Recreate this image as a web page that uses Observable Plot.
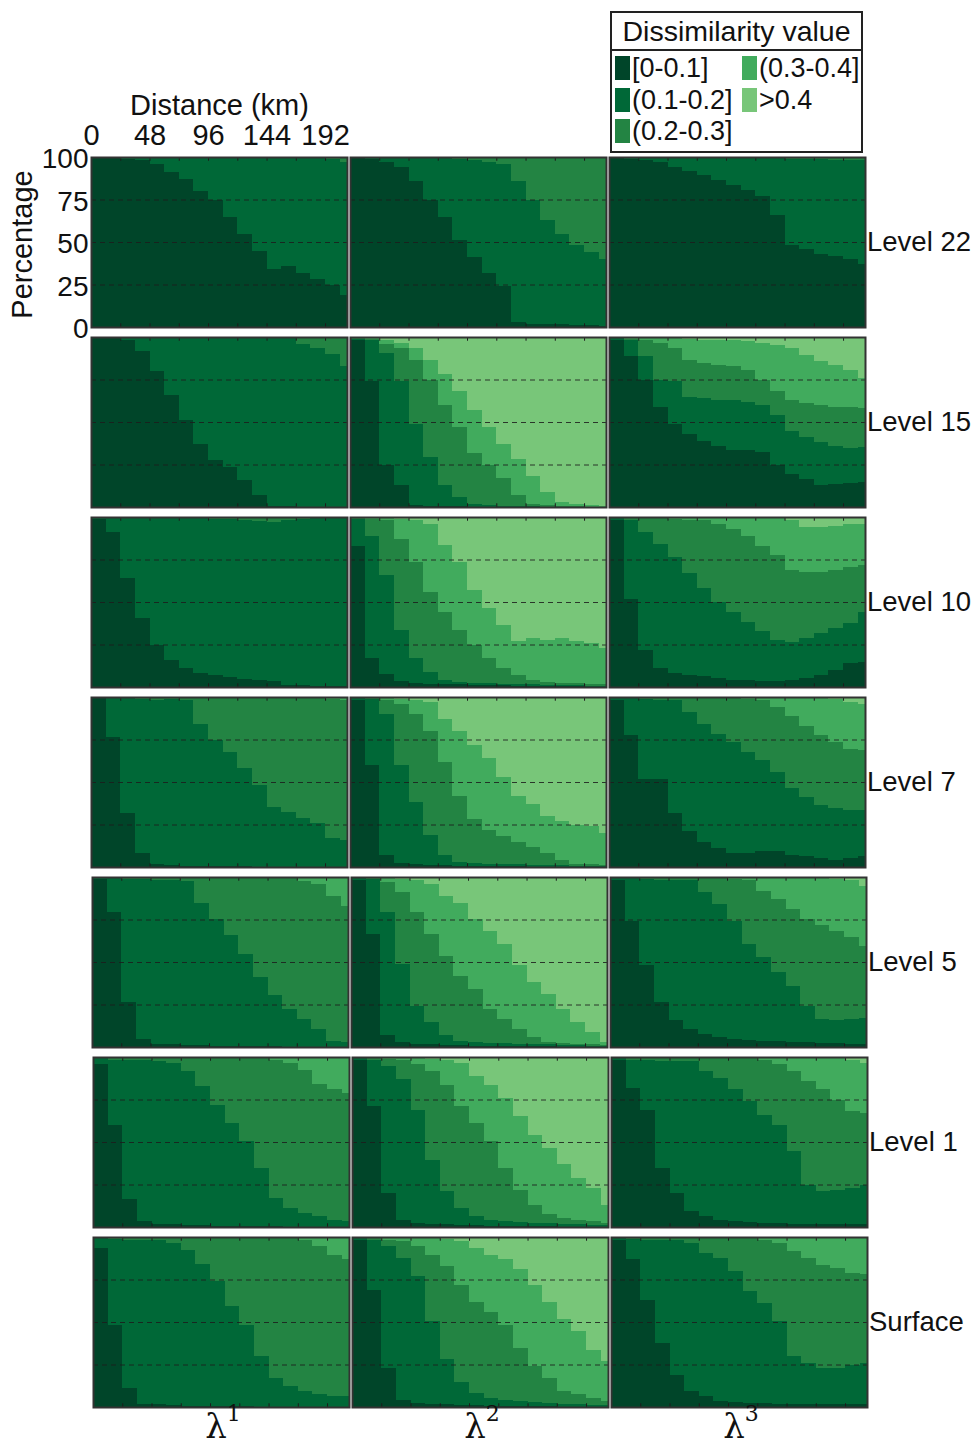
<!DOCTYPE html>
<html><head><meta charset="utf-8">
<script src="https://cdn.jsdelivr.net/npm/d3@7"></script>
<script src="https://cdn.jsdelivr.net/npm/@observablehq/plot@0.6"></script>
<style>
body{margin:0;background:#fff;font-family:"Liberation Sans",Arial,sans-serif;color:#111;}
#fig{position:relative;width:974px;height:1448px;overflow:hidden;background:#fff;}
.abs{position:absolute;}
.rowlab{position:absolute;font-size:27.5px;transform:translateY(-50%);white-space:nowrap;}
.lam{position:absolute;font-family:"DejaVu Serif","Liberation Serif",serif;font-size:34px;transform:translateX(-50%);white-space:nowrap;}
.lam sup{font-size:22px;vertical-align:top;position:relative;top:-5px;}
#legend{position:absolute;left:610px;top:11px;width:253px;height:142px;border:2px solid #222;box-sizing:border-box;background:#fff;}
#legend .title{height:36px;border-bottom:2px solid #222;font-size:28.5px;line-height:36px;text-align:center;white-space:nowrap;}
#legend .item{position:absolute;font-size:27px;line-height:28px;white-space:nowrap;}
#legend .sw{display:inline-block;width:15px;height:24px;vertical-align:-3px;margin-right:2px;}
</style></head><body><div id="fig"></div><script>
// ---- categories, colours, axis values ----
const categories = ["[0-0.1]", "(0.1-0.2]", "(0.2-0.3]", "(0.3-0.4]", ">0.4"];
const legendLabels = ["[0-0.1]", "(0.1-0.2]", "(0.2-0.3]", "(0.3-0.4]", ">0.4"];
const colors = ["#004529", "#006837", "#238443", "#41ab5d", "#78c679"];
const levels = ["Level 22", "Level 15", "Level 10", "Level 7", "Level 5", "Level 1", "Surface"];
const lambdas = ["1", "2", "3"];
const binStart = [0, 12, 24, 36, 48, 60, 72, 84, 96, 108, 120, 132, 144, 156, 168, 180, 192, 204];
const binEnd   = [12, 24, 36, 48, 60, 72, 84, 96, 108, 120, 132, 144, 156, 168, 180, 192, 204, 210];
const xTickLabels = [0, 48, 96, 144, 192];
const xMinorTicks = [24, 48, 72, 96, 120, 144, 168, 192];
const yTickLabels = [0, 25, 50, 75, 100];
const gridLevels = [25, 50, 75];

// ---- cumulative percentage boundaries per panel: [<=0.1, <=0.2, <=0.3, <=0.4] ----
const L22_1 = [
 [100,100,99,98,96,91,87,80,75,65,55,45,34,36,32,28,25,19],
 [100,100,100,100,100,100,100,100,100,100,100,100,100,100,100,100,99,97],
 [100,100,100,100,100,100,100,100,100,100,100,100,100,100,100,100,100,100],
 [100,100,100,100,100,100,100,100,100,100,100,100,100,100,100,100,100,100]];
const L22_2 = [
 [100,99,97,94,86,75,65,51,41,32,24,3,2,2,1.5,1,1,0.5],
 [100,100,100,100,100,100,100,99,98,97,96,86,75,63,55,48,44,40],
 [100,100,100,100,100,100,100,100,100,100,100,100,100,100,100,100,100,100],
 [100,100,100,100,100,100,100,100,100,100,100,100,100,100,100,100,100,100]];
const L22_3 = [
 [100,99,98,97,94,92,89.5,86.5,83.5,80.7,76.8,66,48,46,43,42,40,37],
 [100,100,100,100,100,100,100,100,100,100,100,100,99,99,99,98.5,98.5,98],
 [100,100,100,100,100,100,100,100,100,100,100,100,100,100,100,100,100,100],
 [100,100,100,100,100,100,100,100,100,100,100,100,100,100,100,100,100,100]];
const L15_1 = [
 [100,100,98.5,91.5,80,66,51,37,27.5,23.6,15.7,7,0.5,0.3,0.2,0.1,0,0],
 [100,100,100,100,100,100,100,100,100,100,100,100,100,99.5,96,93.5,90,83],
 [100,100,100,100,100,100,100,100,100,100,100,100,100,100,100,100,100,100],
 [100,100,100,100,100,100,100,100,100,100,100,100,100,100,100,100,100,100]];
const L15_2 = [
 [98,74,25,13,1,0.5,0.4,0.3,0.2,0.1,0,0,0,0,0,0,0,0],
 [99,98,90.5,74,49,29.5,13,6,2,1,0.5,0.4,0.3,0.2,0.1,0,0,0],
 [99.5,99,96,93.5,86.6,75,60,47,31.5,24.6,17,7,2,1,0.5,0.3,0.2,0],
 [100,99.5,98,96.5,93.5,86.6,78,68,57,47,37,28,18,9,3,1.5,1,0.5]];
const L15_3 = [
 [98,88.6,75,59,49,43,39,36,33.5,33.5,32.5,24.6,19.7,16.7,12.8,13.8,14.2,14.8],
 [99.5,98,88.6,75,74,65,64,63,63,62,60,54,45,41,38,36,34.5,35.5],
 [100,99,98.5,96.5,93.5,86.6,84.6,83.7,82.7,80.7,74.8,68,63,61,60,59,58.7,58],
 [100,100,100,100,99.5,99,98.5,98,98.4,97.4,96.5,95.5,93.5,89.6,85.6,83.7,80.7,75.8]];
const L10_1 = [
 [99,91,64,40.4,24.8,16,11,8.2,6.8,5.9,4.9,4.3,3.7,1.4,1,0.8,0.6,0.5],
 [100,100,100,100,100,100,100,100,99,99,98,97.5,97,98,99,99.5,99.5,99.5],
 [100,100,100,100,100,100,100,100,100,100,100,100,100,100,100,100,100,100],
 [100,100,100,100,100,100,100,100,100,100,100,100,100,100,100,100,100,100]];
const L10_2 = [
 [83,17,7.4,3.3,2.5,2,1.8,1.6,1.4,1.2,1,0.8,0.6,0.5,0.4,0.3,0.2,0.1],
 [99,89,66,33.6,17,9,4.3,3,2.5,2.2,2,1.8,1.6,1.4,1.2,1,0.8,0.6],
 [100,99,98,87,73.6,56,44,33.6,24.8,17,11,7,4.3,3,2.5,2.2,2,1.8],
 [100,100,99.5,99,98,96,83.4,73.6,57,46.3,36.5,26.8,28.7,27.7,28.7,26.8,25.8,22.9]];
const L10_3 = [
 [98,52,22,11,8.2,7.2,6.3,5.3,4.3,4,3.3,3.7,4.3,5.3,7.2,10,14,15],
 [99.5,98,91,84.4,76.6,66.8,58,50.2,44.3,38,33,27.5,26.5,29,31.6,34.6,37.5,44],
 [100,100,100,99.5,99,98.5,98,96,93,89,83,77.5,68.8,67.8,67.8,68.8,70.7,71.7],
 [100,100,100,100,100,100,100,100,100,100,100,100,98,94,94,95,96,96]];
const L7_1 = [
 [100,76.5,31.6,8.2,1.8,1,0.8,0.6,0.5,0.4,0.3,0.2,0.2,0.1,0.1,0,0,0],
 [100,100,99.5,99,98.5,99,98,84.4,74.6,67.8,58,48.2,35.5,32.6,28.7,25.8,17,16],
 [100,100,100,100,100,100,100,100,100,100,100,100,100,100,100,100,99,98],
 [100,100,100,100,100,100,100,100,100,100,100,100,100,100,100,100,100,100]];
const L7_2 = [
 [98,60,7.2,2.3,1.5,1.2,1,0.8,0.6,0.5,0.4,0.3,0.2,0.1,0,0,0,0],
 [99.5,99,90,60,38,19,7.2,3,2.5,2,1.8,1.6,1.4,1.2,1,0.8,0.6,0.5],
 [100,99.5,98,96,90,80,62,42,28,22,18,15,12,8,4,2,1.5,1],
 [100,100,99.5,99,98.5,97,87,80,72,64,53,42,37,30,27,25,24,20]];
const L7_3 = [
 [98,77.5,52,52,31.6,21,15,11,8.2,8.2,9.2,9.2,7.2,6.3,5.3,4.3,5.3,6.3],
 [100,99.5,99,98.5,98,91,84.4,78.5,73.6,67.8,63,56,46.3,41.4,36.5,34.6,33.6,33.6],
 [100,100,100,100,100,100,100,100,99.5,99,98,94,89,83,77.5,73.6,69.7,68.8],
 [100,100,100,100,100,100,100,100,100,100,100,100,100,100,100,99,97,96]];
const L5_1 = [
 [99,79.3,26.4,4.8,1.9,1.5,1.2,1,0.8,0.6,0.5,0.4,0.3,0.2,0.2,0.1,0.1,0],
 [100,99.5,99,99,98.5,98.5,97.5,85,75.4,65.6,54.8,41,30.3,22.5,16.6,10.7,3.8,2.8],
 [100,100,100,100,100,100,100,100,100,100,100,100,100,99.5,97.8,96,89,83],
 [100,100,100,100,100,100,100,100,100,100,100,100,100,100,100,100,100,100]];
const L5_2 = [
 [98,66.6,6.8,2.8,2,1.5,1.2,1,0.8,0.7,0.6,0.5,0.4,0.3,0.2,0.1,0,0],
 [100,99,79.3,49,24.4,14.6,6.8,3.8,2.8,2.5,2.2,2,1.8,1.5,1.2,1,0.8,0.6],
 [100,99.5,97,91,79.3,66.6,53.8,42,34.2,22.5,16.6,10.7,5.8,2.8,2.4,2,1.7,1.4],
 [100,100,99.5,99,98,96,89,85,75.4,68.5,60.7,48,38,31.3,22.5,14.6,8.7,2.8]];
const L5_3 = [
 [98,74,48,26.4,15.6,10.7,7.7,5.8,4.8,4.3,3.8,3.3,2.8,2.8,2.4,2.4,1.9,1.9],
 [100,99.5,99,98.5,98,98,91,84.2,74.4,60.7,52.8,44,36,24.4,16.6,15.6,16.6,17],
 [100,100,100,100,100,100,100,99.5,99,98,92,87,81,75.4,71.5,68.5,64.6,59.7],
 [100,100,100,100,100,100,100,100,100,100,100,100,100,100,100,99,98,95]];
const L1_1 = [
 [95.6,60,16.2,3.4,2,1.5,1.2,1,0.8,0.6,0.5,0.4,0.3,0.2,0.2,0.1,0.1,0],
 [100,98.5,98.5,98.5,97.5,96.5,91.6,82.8,72,61.3,50.5,34.8,17,11.3,8.3,6.4,4.4,3.4],
 [100,100,100,100,100,100,100,100,100,100,100,99.5,98.5,96.5,92.6,84,81,79],
 [100,100,100,100,100,100,100,100,100,100,100,100,100,100,100,100,100,100]];
const L1_2 = [
 [98.5,71,20,4.4,2.5,2,1.5,1.2,1,0.8,0.6,0.5,0.4,0.3,0.2,0.1,0,0],
 [100,98.5,94.6,86.8,69,39.7,21,11.3,6.4,4.4,3.4,3,2.6,2.2,2,1.6,1.3,1],
 [100,99.5,99,98.5,95.6,91.6,83.8,71,61.3,50.5,34.8,22,13.2,7.4,5.4,4.4,3.4,2.5],
 [100,100,100,100,100,99,98.5,96.5,88.7,83.8,76,65.2,54.4,46.6,36.8,29,23,13.2]];
const L1_3 = [
 [98.5,82,69,35,20,9.3,6.4,4.4,3.4,3,2.5,2.5,2,2,2,1.5,1.5,1.5],
 [99.5,98.5,98,97.5,97.5,97.5,91.6,87.7,81,74,66,60,44.6,25,21,22,23,25],
 [100,100,100,100,100,100,100,100,100,99.5,98.5,95.6,91.6,85.8,81,75,68,67],
 [100,100,100,100,100,100,100,100,100,100,100,100,100,100,100,99.5,98.5,96.5]];
const S_1 = [
 [93.6,48.5,11.3,1.9,1.5,1,0.8,0.6,0.5,0.4,0.3,0.2,0.2,0.1,0.1,0,0,0],
 [100,99,98.5,98,98,96.5,92.6,84,74,59.3,48.5,30,17,12.3,9.3,7.4,6.4,6.4],
 [100,100,100,100,100,100,100,100,100,100,100,100,100,99.5,98.5,94.6,89.7,86.8],
 [100,100,100,100,100,100,100,100,100,100,100,100,100,100,100,100,100,100]];
const S_2 = [
 [98.5,69,23,4.4,2.5,2,1.5,1.2,1,0.8,0.6,0.5,0.4,0.3,0.2,0.1,0,0],
 [100,98.5,94.6,87.7,77,50.5,28,15,8.3,5.4,4.4,3.4,3,2.5,2,1.5,1.2,1],
 [100,99.5,98.5,97.5,94.6,89.7,82.8,72,62,56,48.5,34.8,24,17,9.3,7.4,5.4,3.4],
 [100,100,100,100,100,100,99,97.5,93.6,89.7,86.8,81,72,62,51.5,44.6,33.8,27]];
const S_3 = [
 [98.5,86.8,63.2,37.7,19,9.3,6.4,3.4,3,2.5,2.2,2,2,2,1.5,1.5,1.5,1.5],
 [99.5,99,98.5,98.5,98.5,96.5,90.7,87.7,80,68,61.3,50.5,30,26,23,23,25,26],
 [100,100,100,100,100,100,100,100,100,100,98.5,96.5,91.6,87.7,83.8,81.9,78.9,78],
 [100,100,100,100,100,100,100,100,100,100,100,100,100,100,100,100,100,100]];

const panels = [
  [L22_1, L22_2, L22_3], [L15_1, L15_2, L15_3], [L10_1, L10_2, L10_3],
  [L7_1, L7_2, L7_3], [L5_1, L5_2, L5_3], [L1_1, L1_2, L1_3], [S_1, S_2, S_3]];

// ---- layout (pixels) ----
const PW = 256, PH = 170;
const colLeft = [91, 350, 609];
const rowTop = [157, 337, 517, 697, 877, 1057, 1237];
const rowShift = [0, 0, 0, 0, 1, 2, 2];
const FONT = '"Liberation Sans", Arial, sans-serif';

function toRects(bounds) {
  const rows = [];
  binStart.forEach((x1, i) => {
    let lo = 0;
    categories.forEach((c, k) => {
      const hi = k < 4 ? Math.max(lo, bounds[k][i]) : 100;
      if (hi > lo) rows.push({x1, x2: binEnd[i], y1: lo, y2: hi, cat: c});
      lo = hi;
    });
  });
  return rows;
}

function panel(bounds, withAxes) {
  const mL = withAxes ? colLeft[0] : 1;
  const mT = withAxes ? rowTop[0] : 1;
  const marks = [
    Plot.rect(toRects(bounds), {x1: "x1", x2: "x2", y1: "y1", y2: "y2", fill: "cat", shapeRendering: "crispEdges"}),
    Plot.ruleY(gridLevels, {stroke: "#1c1c1c", strokeWidth: 1, strokeDasharray: "5,4", strokeOpacity: 0.85}),
    Plot.ruleX(xMinorTicks, {y1: 0, y2: 2.2, stroke: "#1c1c1c", strokeWidth: 1}),
    Plot.ruleX(xMinorTicks, {y1: 97.8, y2: 100, stroke: "#1c1c1c", strokeWidth: 1}),
    Plot.frame({stroke: "#333", strokeWidth: 2})
  ];
  if (withAxes) {
    marks.push(
      Plot.axisX(xTickLabels, {anchor: "top", tickSize: 0, tickPadding: 13, fontSize: 29, label: null}),
      Plot.axisY(yTickLabels, {anchor: "left", tickSize: 0, tickPadding: 3, fontSize: 28, dy: 2, label: null}),
      Plot.text(["Distance (km)"], {text: d => d, frameAnchor: "top", lineAnchor: "middle", textAnchor: "middle", dy: -52, fontSize: 29}),
      Plot.text(["Percentage"], {text: d => d, frameAnchor: "left", lineAnchor: "middle", textAnchor: "middle", rotate: -90, dx: -69, dy: 2, fontSize: 29})
    );
  }
  return Plot.plot({
    width: mL + PW + 1, height: mT + PH + 1,
    marginLeft: mL, marginTop: mT, marginRight: 1, marginBottom: 1,
    x: {domain: [0, 210], axis: null},
    y: {domain: [0, 100], axis: null},
    color: {domain: categories, range: colors},
    style: {fontFamily: FONT, fontSize: "29px", color: "#111", background: "transparent", overflow: "visible"},
    marks
  });
}

const fig = document.getElementById("fig");
panels.forEach((row, r) => {
  row.forEach((bounds, c) => {
    const first = r === 0 && c === 0;
    const el = panel(bounds, first);
    el.classList.add("abs");
    el.style.left = (first ? 0 : colLeft[c] + rowShift[r] - 1) + "px";
    el.style.top = (first ? 0 : rowTop[r] - 1) + "px";
    fig.appendChild(el);
  });
  const lab = document.createElement("div");
  lab.className = "rowlab";
  lab.textContent = levels[r];
  lab.style.left = (colLeft[2] + PW + 2 + rowShift[r]) + "px";
  lab.style.top = (rowTop[r] + PH / 2) + "px";
  fig.appendChild(lab);
});
lambdas.forEach((s, c) => {
  const d = document.createElement("div");
  d.className = "lam";
  d.innerHTML = "λ<sup>" + s + "</sup>";
  d.style.left = (colLeft[c] + 4 + PW / 2) + "px";
  d.style.top = "1406px";
  fig.appendChild(d);
});
// legend
const lg = document.createElement("div");
lg.id = "legend";
lg.innerHTML = '<div class="title">Dissimilarity value</div>';
const legendPos = [[3, 41], [3, 73], [3, 104], [130, 41], [130, 73]];
categories.forEach((c, i) => {
  const it = document.createElement("div");
  it.className = "item";
  it.style.left = legendPos[i][0] + "px";
  it.style.top = legendPos[i][1] + "px";
  it.innerHTML = '<span class="sw" style="background:' + colors[i] + '"></span>' + legendLabels[i];
  lg.appendChild(it);
});
fig.appendChild(lg);
</script></body></html>
